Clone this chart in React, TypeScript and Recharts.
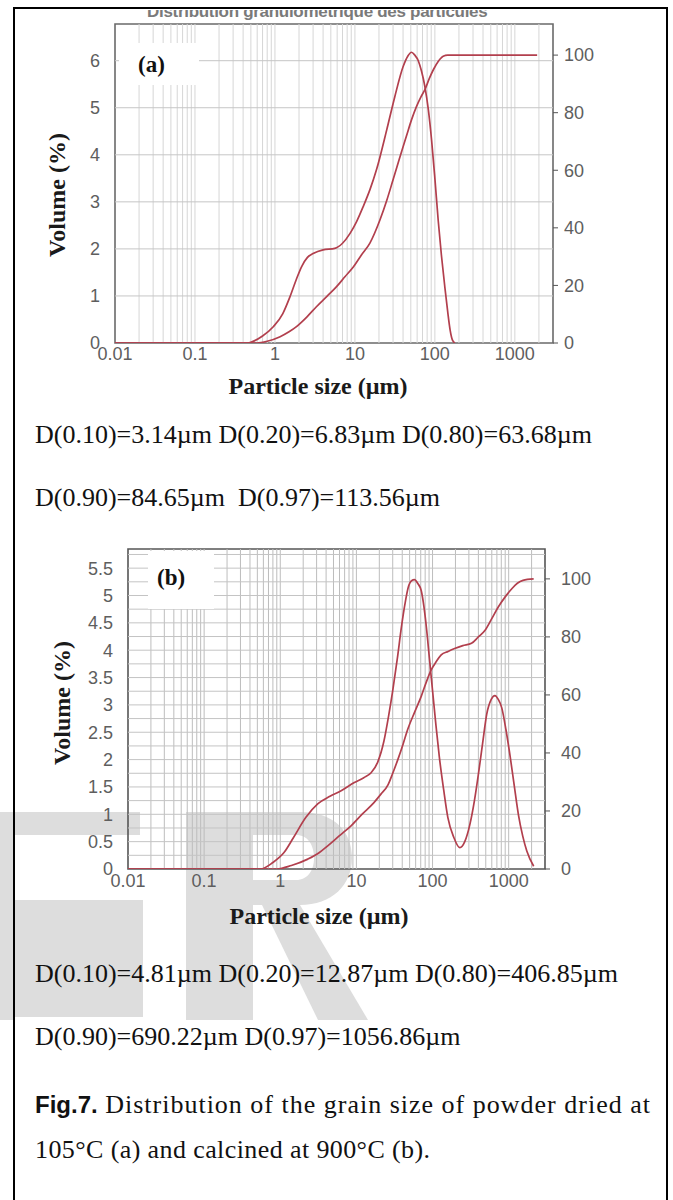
import React from "react";
import { LineChart, Line, XAxis, YAxis, ReferenceLine, ReferenceArea } from "recharts";

type Pt = { size: number; v: number };
const pts = (rows: number[][]): Pt[] => rows.map(([size, v]) => ({ size, v }));

const SERIF = '"Liberation Serif", "Times New Roman", serif';
const SANS = '"Liberation Sans", Arial, sans-serif';
const RED = "#b23f4d";

// shared axes
const sizeTicks = [0.01, 0.1, 1, 10, 100, 1000];
const pctTicks = [0, 20, 40, 60, 80, 100];
const decades = [0.01, 0.1, 1, 10, 100, 1000];
const logGrid = decades
  .flatMap((d) => [1, 2, 3, 4, 5, 6, 7, 8, 9].map((k) => +(d * k).toPrecision(3)))
  .filter((v) => v > 0.01 && v < 3000);

// (a) dried at 105 °C
const volTicksA = [0, 1, 2, 3, 4, 5, 6];
const hGridA = [1, 2, 3, 4, 5, 6];
const freqA = pts([
  [0.01, 0], [0.45, 0], [0.7, 0.15], [0.96, 0.35], [1.25, 0.62], [1.54, 0.98], [1.85, 1.35],
  [2.15, 1.62], [2.55, 1.82], [3.0, 1.9], [4.0, 1.98], [5.6, 2.01], [7, 2.12], [8.7, 2.33],
  [10.5, 2.58], [12.7, 2.9], [15.5, 3.27], [18.6, 3.68], [25, 4.53], [31.6, 5.24], [40, 5.87],
  [46, 6.1], [51, 6.18], [56, 6.12], [62, 6.0], [68, 5.78], [75, 5.45], [83, 4.95], [91, 4.31],
  [100, 3.5], [110, 2.61], [121, 1.85], [133, 1.2], [145, 0.65], [155, 0.28], [166, 0.06], [178, 0],
]);
const cumA = pts([
  [0.01, 0], [0.59, 0], [0.8, 0.6], [1.16, 2.2], [1.5, 3.9], [1.86, 5.7], [2.5, 9], [3.3, 12.6],
  [4.5, 16.3], [5.9, 19.6], [7.5, 23], [9.6, 26.5], [12, 30.5], [15.4, 34.7], [20.6, 42.8],
  [25, 49.5], [30, 56.7], [36, 64], [44, 71.8], [51, 77.5], [59, 82.2], [67, 85.5], [75, 88],
  [85, 91.8], [96, 95], [110, 97.8], [127, 99.6], [145, 100], [1900, 100],
]);

// (b) calcined at 900 °C
const volTicksB = [0, 0.5, 1, 1.5, 2, 2.5, 3, 3.5, 4, 4.5, 5, 5.5];
const hGridB = [0.25, 0.5, 0.75, 1, 1.25, 1.5, 1.75, 2, 2.25, 2.5, 2.75, 3, 3.25, 3.5, 3.75, 4, 4.25, 4.5, 4.75, 5, 5.25, 5.5, 5.75];
const freqB = pts([
  [0.01, 0], [0.55, 0], [0.8, 0.12], [1.12, 0.3], [1.5, 0.58], [2.16, 0.94], [3.1, 1.19],
  [4.5, 1.33], [6.3, 1.43], [9.4, 1.58], [12.5, 1.67], [15.6, 1.76], [19, 1.95], [23, 2.34],
  [26.5, 2.8], [30, 3.26], [34.5, 3.85], [39, 4.42], [43.5, 4.85], [48, 5.15], [53, 5.27],
  [58, 5.29], [64, 5.22], [71, 5.09], [77, 4.8], [83, 4.42], [91, 3.85], [100, 3.26],
  [111, 2.62], [123, 2.04], [140, 1.45], [159, 0.94], [190, 0.58], [228, 0.39], [265, 0.5],
  [310, 0.82], [355, 1.25], [400, 1.73], [455, 2.3], [515, 2.83], [590, 3.1], [660, 3.17],
  [730, 3.1], [810, 2.95], [920, 2.55], [1050, 2.04], [1190, 1.5], [1340, 1.0], [1530, 0.6],
  [1730, 0.33], [2130, 0.05],
]);
const cumB = pts([
  [0.01, 0], [0.9, 0], [1.4, 1.2], [2.3, 3.4], [3.2, 5.5], [4.2, 8], [6, 11.5], [8.5, 14.9],
  [12, 19], [17, 22.9], [21, 25.8], [26, 29], [30, 33], [35, 37.7], [41, 43], [47, 48], [58, 54],
  [71, 59.5], [83, 64.5], [96, 68.6], [112, 71.5], [130, 73.8], [160, 75], [195, 76], [250, 77],
  [325, 77.8], [400, 80], [490, 82.3], [600, 86.3], [730, 90.3], [900, 93.8], [1100, 96.6],
  [1300, 98.5], [1540, 99.5], [2130, 100],
]);

const statsA = ["D(0.10)=3.14µm D(0.20)=6.83µm D(0.80)=63.68µm", "D(0.90)=84.65µm  D(0.97)=113.56µm"];
const statsB = ["D(0.10)=4.81µm D(0.20)=12.87µm D(0.80)=406.85µm", "D(0.90)=690.22µm D(0.97)=1056.86µm"];

interface PsdProps {
  top: number;
  height: number;
  marginTop: number;
  leftW: number;
  rightW: number;
  volMax: number;
  pctMax: number;
  volTicks: number[];
  hGrid: number[];
  freq: Pt[];
  cum: Pt[];
  vColor: string;
  hColor: string;
  frameColor: string;
  xTickSize: number;
  rightTickGap: number;
}

function PsdChart(p: PsdProps) {
  const tick = { fill: "#5e5e5e", fontSize: 18, fontFamily: SANS };
  return (
    <div style={{ position: "absolute", left: 0, top: p.top }}>
      <LineChart width={673} height={p.height} margin={{ top: p.marginTop, right: 20, bottom: 0, left: 0 }}>
        <XAxis
          dataKey="size"
          type="number"
          scale="log"
          domain={[0.01, 3000]}
          allowDataOverflow
          ticks={sizeTicks}
          tickFormatter={(v) => String(v)}
          axisLine={false}
          tickLine={false}
          tickSize={p.xTickSize}
          tickMargin={0}
          height={30}
          tick={tick}
          interval={0}
        />
        <YAxis
          yAxisId="l"
          type="number"
          domain={[0, p.volMax]}
          allowDataOverflow
          ticks={p.volTicks}
          width={p.leftW}
          axisLine={false}
          tickLine={false}
          tickSize={8}
          tickMargin={7}
          tick={tick}
          interval={0}
        />
        <YAxis
          yAxisId="r"
          orientation="right"
          type="number"
          domain={[0, p.pctMax]}
          allowDataOverflow
          ticks={pctTicks}
          width={p.rightW}
          axisLine={false}
          tickLine={{ stroke: "#555" }}
          tickSize={5}
          tickMargin={p.rightTickGap}
          tick={tick}
          interval={0}
        />
        {logGrid.map((v) => (
          <ReferenceLine key={"v" + v} x={v} yAxisId="l" stroke={p.vColor} strokeWidth={1} />
        ))}
        {p.hGrid.map((v) => (
          <ReferenceLine key={"h" + v} y={v} yAxisId="l" stroke={p.hColor} strokeWidth={1} />
        ))}
        <ReferenceArea x1={0.01} x2={3000} y1={0} y2={p.volMax} yAxisId="l" fill="none" stroke={p.frameColor} strokeWidth={1.6} />
        <Line data={p.freq} yAxisId="l" dataKey="v" type="monotone" stroke={RED} strokeWidth={1.7} dot={false} isAnimationActive={false} />
        <Line data={p.cum} yAxisId="r" dataKey="v" type="monotone" stroke={RED} strokeWidth={1.7} dot={false} isAnimationActive={false} />
      </LineChart>
    </div>
  );
}

const abs = (left: number, top: number, extra: React.CSSProperties = {}): React.CSSProperties => ({
  position: "absolute",
  left,
  top,
  ...extra,
});

function AxisTitles({ volX, volY, sizeX, sizeY }: { volX: number; volY: number; sizeX: number; sizeY: number }) {
  const t: React.CSSProperties = { fontFamily: SERIF, fontWeight: "bold", fontSize: 24, color: "#1a1a1a", whiteSpace: "nowrap", lineHeight: "26px" };
  return (
    <>
      <div style={abs(volX, volY, { ...t, transform: "translate(-50%, -50%) rotate(-90deg)" })}>Volume (%)</div>
      <div style={abs(sizeX, sizeY, { ...t, transform: "translate(-50%, -50%)" })}>Particle size (µm)</div>
    </>
  );
}

function TextLine({ top, children, spacing = 0 }: { top: number; children: React.ReactNode; spacing?: number }) {
  return (
    <div style={abs(35, top, { fontFamily: SERIF, fontSize: 26, lineHeight: "30px", color: "#111", whiteSpace: "pre", letterSpacing: spacing })}>
      {children}
    </div>
  );
}

export default function App() {
  const wm = "#dddddd";
  return (
    <div style={{ position: "absolute", left: 0, top: 0, width: 673, height: 1200, overflow: "hidden", background: "#fff" }}>
      {/* watermark */}
      <svg width={673} height={1200} style={abs(0, 0)}>
        <rect x={0} y={812} width={140} height={23} fill={wm} />
        <rect x={0} y={812} width={14} height={208} fill={wm} />
        <rect x={0} y={900} width={143} height={117} fill={wm} />
        <rect x={186} y={812} width={67} height={208} fill={wm} />
        <path d="M253 812 H300 C335 812 352 832 352 858 C352 885 332 905 300 905 H253 V880 H296 C308 880 314 870 314 858 C314 845 308 835 296 835 H253 Z" fill={wm} />
        <path d="M262 905 H300 L368 1020 H318 Z" fill={wm} />
      </svg>

      {/* frame */}
      <div style={abs(13, 7, { width: 655, height: 1300, border: "2px solid #000", boxSizing: "border-box" })} />

      {/* clipped original title above (a) */}
      <div style={abs(147, 10, { width: 362, height: 11, overflow: "hidden" })}>
        <div style={{ marginTop: -8, fontFamily: SANS, fontWeight: "bold", fontSize: 17, color: "#7a7a7a", whiteSpace: "nowrap", letterSpacing: -0.3 }}>
          Distribution granulométrique des particules
        </div>
      </div>

      <PsdChart
        top={0}
        height={373}
        marginTop={24}
        leftW={115}
        rightW={100}
        volMax={6.78}
        pctMax={110.8}
        volTicks={volTicksA}
        hGrid={hGridA}
        freq={freqA}
        cum={cumA}
        vColor="#d6d6d6"
        hColor="#c6c6c6"
        frameColor="#6a6a6a"
        xTickSize={4}
        rightTickGap={6}
      />
      <div style={abs(119, 43, { width: 80, height: 42, background: "#fff" })} />
      <div style={abs(138, 52, { fontFamily: SERIF, fontWeight: "bold", fontSize: 23, lineHeight: "26px", color: "#111" })}>(a)</div>
      <AxisTitles volX={57} volY={195} sizeX={318} sizeY={386} />

      <TextLine top={420}>{statsA[0]}</TextLine>
      <TextLine top={483}>{statsA[1]}</TextLine>

      <PsdChart
        top={520}
        height={379}
        marginTop={29}
        leftW={128}
        rightW={108}
        volMax={5.85}
        pctMax={110.3}
        volTicks={volTicksB}
        hGrid={hGridB}
        freq={freqB}
        cum={cumB}
        vColor="#bdbdbd"
        hColor="#c4c4c4"
        frameColor="#555"
        xTickSize={5}
        rightTickGap={11}
      />
      <div style={abs(148, 551, { width: 66, height: 58, background: "#fff" })} />
      <div style={abs(157, 565, { fontFamily: SERIF, fontWeight: "bold", fontSize: 23, lineHeight: "26px", color: "#111" })}>(b)</div>
      <AxisTitles volX={62} volY={703} sizeX={319} sizeY={916} />

      <TextLine top={959}>{statsB[0]}</TextLine>
      <TextLine top={1022}>{statsB[1]}</TextLine>

      <TextLine top={1090} spacing={1}>
        <span style={{ fontFamily: SANS, fontWeight: "bold", fontSize: 24, letterSpacing: 0 }}>Fig.7</span>
        <span style={{ fontFamily: SANS, fontWeight: "bold", fontSize: 24, letterSpacing: 0 }}>.</span>
        {" Distribution of the grain size of powder dried at"}
      </TextLine>
      <TextLine top={1135} spacing={0.4}>105°C (a) and calcined at 900°C (b).</TextLine>
    </div>
  );
}
